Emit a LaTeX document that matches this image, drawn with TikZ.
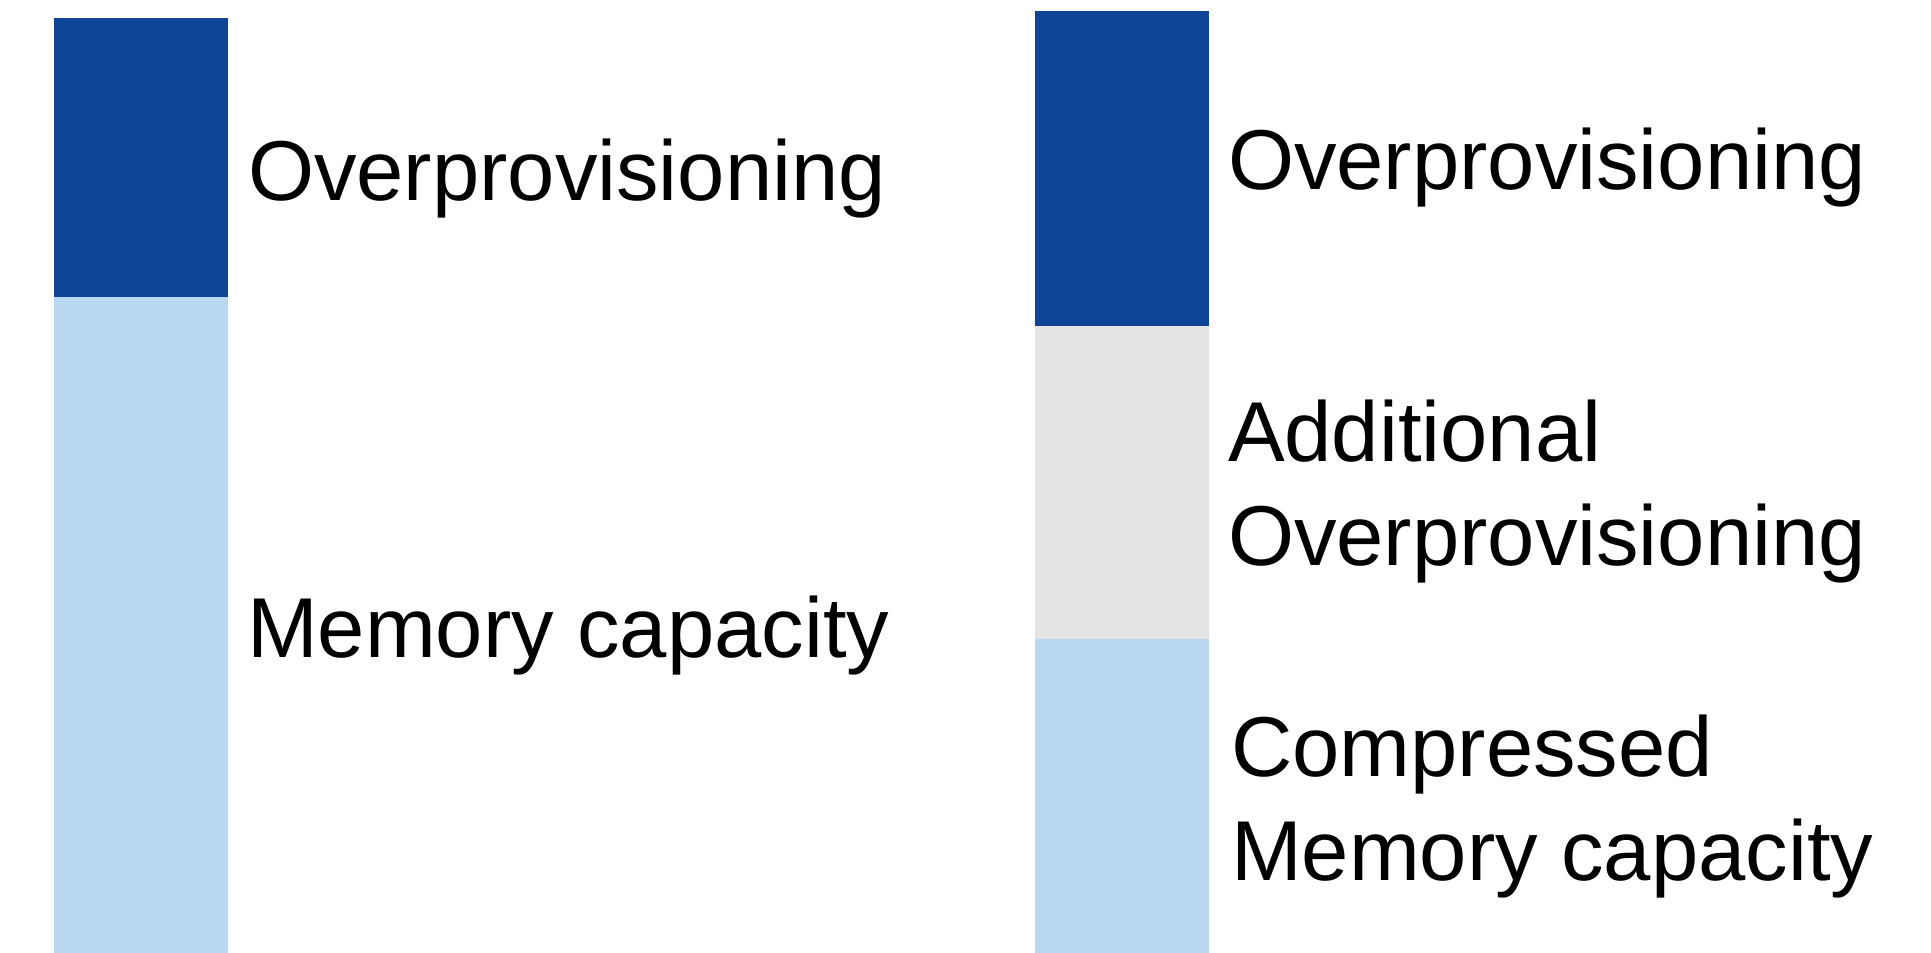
\documentclass[tikz,border=0pt]{standalone}
\usepackage{fontspec}
\setmainfont{Liberation Sans}
\definecolor{darkblue}{RGB}{14,69,150}
\definecolor{lightblue}{RGB}{186,215,242}
\definecolor{lightgray}{RGB}{228,228,228}
\tikzset{
  lbl/.style={anchor=base west, inner sep=0pt, outer sep=0pt, text=black,
    font=\fontsize{85}{104}\selectfont}
}
\begin{document}
\begin{tikzpicture}[x=1pt,y=-1pt]
\useasboundingbox (0,0) rectangle (1931,953);
% left bar
\fill[darkblue] (54,18) rectangle (228,297);
\fill[lightblue] (54,297) rectangle (228,953);
% right bar
\fill[darkblue] (1035,11) rectangle (1209,326);
\fill[lightgray] (1035,326) rectangle (1209,639);
\fill[lightblue] (1035,639) rectangle (1209,953);
% labels
\node[lbl] (l1) at (248,200) {Overprovisioning};
\node[lbl] (l2) at (247,657) {Memory capacity};
\node[lbl] (r1) at (1228,189) {Overprovisioning};
\node[lbl] (r2) at (1228,461) {Additional};
\node[lbl] (r3) at (1228,565) {Overprovisioning};
\node[lbl] (r4) at (1231,776) {Compressed};
\node[lbl] (r5) at (1231,880) {Memory capacity};
\end{tikzpicture}
\end{document}
